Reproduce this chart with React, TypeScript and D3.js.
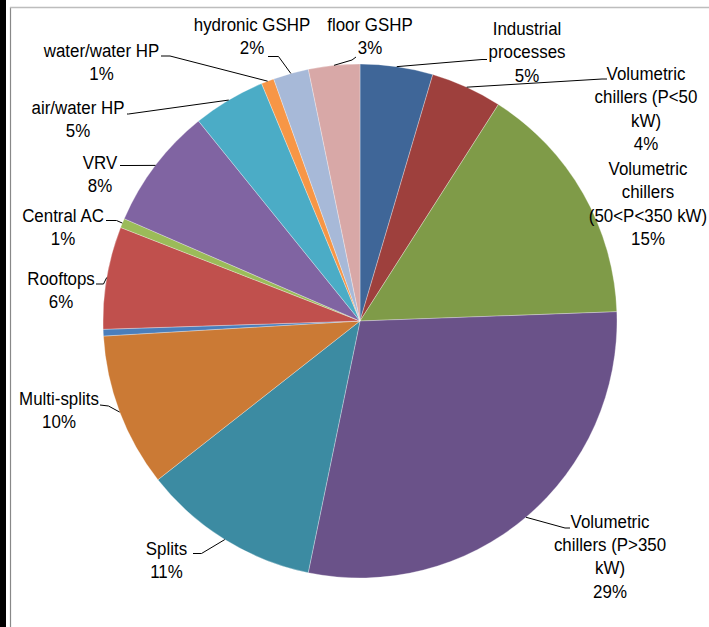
import React from "react";
import * as d3 from "d3";

// ---- data ----
const categories = [
  "Industrial processes",
  "Volumetric chillers (P<50 kW)",
  "Volumetric chillers (50<P<350 kW)",
  "Volumetric chillers (P>350 kW)",
  "Splits",
  "Multi-splits",
  "Other",
  "Rooftops",
  "Central AC",
  "VRV",
  "air/water HP",
  "water/water HP",
  "hydronic GSHP",
  "floor GSHP",
];
const values = [4.57, 4.48, 15.37, 28.8, 11.17, 9.66, 0.42, 6.44, 0.59, 7.67, 4.56, 0.8, 2.23, 3.22];
const percentLabels = ["5%", "4%", "15%", "29%", "11%", "10%", "", "6%", "1%", "8%", "5%", "1%", "2%", "3%"];
const labelLines = [
  ["Industrial", "processes"],
  ["Volumetric", "chillers (P<50", "kW)"],
  ["Volumetric", "chillers", "(50<P<350 kW)"],
  ["Volumetric", "chillers (P>350", "kW)"],
  ["Splits"],
  ["Multi-splits"],
  [],
  ["Rooftops"],
  ["Central AC"],
  ["VRV"],
  ["air/water HP"],
  ["water/water HP"],
  ["hydronic GSHP"],
  ["floor GSHP"],
];

// ---- styles / layout ----
const colors = [
  "#3F6698", "#9E403D", "#7F9B48", "#6A5289", "#3C8BA2", "#CB7A35",
  "#4A7EBB", "#C0504D", "#9BBB59", "#8064A2", "#4BACC6", "#F79646",
  "#A7B9D8", "#D8A8A7",
];
// label text anchor (center x, first baseline y)
const labelPos: ([number, number] | null)[] = [
  [527, 35], [646, 80], [648, 175], [610, 527.5], [166.5, 555], [59, 405],
  null, [61, 285], [63, 222], [100, 168.5], [78, 113.5], [101.5, 56.5],
  [252, 31], [370, 31],
];
// leader line: [elbow x, elbow y, end x, end y] or null
const leaders: ([number, number, number, number] | null)[] = [
  [482, 59.5, 487, 59.5],
  [602, 79, 607, 79],
  null,
  [565, 528, 570, 528],
  [201.5, 553.5, 193, 553.5],
  [108.5, 406, 100, 405],
  null,
  [103.5, 284, 96, 284],
  [116.5, 220.5, 106, 220.5],
  [128, 165.5, 120, 165.5],
  [128.5, 114, 127, 114],
  [170, 56, 161, 56],
  [278.5, 56.5, 268, 56.5],
  [352, 60, 356, 57],
];

const W = 709;
const H = 627;
const cx = 360;
const cy = 321;
const R = 257;
const LINE_H = 23.5;
const FONT = 19;
const SX = 0.89;

export default function App() {
  const pie = d3.pie<number>().sort(null).value((d) => d)(values);
  const arc = d3.arc<d3.PieArcDatum<number>>().innerRadius(0).outerRadius(R);
  const edge = d3.arc<d3.PieArcDatum<number>>().innerRadius(R).outerRadius(R);

  return (
    <svg
      width={W}
      height={H}
      style={{ position: "absolute", left: 0, top: 0, background: "#fff" }}
      fontFamily="'Liberation Sans', Arial, sans-serif"
    >
      <rect x={0} y={0} width={W} height={H} fill="#fff" />
      <rect x={0} y={0} width={6} height={H} fill="#000" />
      <line x1={10.5} y1={7} x2={10.5} y2={H} stroke="#888" strokeWidth={1.2} />
      <line x1={10} y1={7.5} x2={W} y2={7.5} stroke="#BDBDBD" strokeWidth={1.6} />

      <g transform={`translate(${cx},${cy})`}>
        {pie.map((p, i) => (
          <path key={i} d={arc(p) || ""} fill={colors[i]} stroke="#ffffff" strokeOpacity={0.5} strokeWidth={0.6} />
        ))}
      </g>

      {pie.map((p, i) => {
        const ld = leaders[i];
        if (!ld) return null;
        const [ex, ey] = edge.centroid(p);
        return (
          <polyline
            key={"l" + i}
            points={`${cx + ex},${cy + ey} ${ld[0]},${ld[1]} ${ld[2]},${ld[3]}`}
            fill="none"
            stroke="#000"
            strokeWidth={1}
          />
        );
      })}

      {categories.map((c, i) => {
        const pos = labelPos[i];
        if (!pos) return null;
        const lines = [...labelLines[i], percentLabels[i]];
        return (
          <g key={"t" + i} transform={`translate(${pos[0]},${pos[1]}) scale(${SX},1)`}>
            <text textAnchor="middle" fontSize={FONT} fill="#000">
              {lines.map((ln, j) => (
                <tspan key={j} x={0} y={j * LINE_H}>
                  {ln}
                </tspan>
              ))}
            </text>
          </g>
        );
      })}
    </svg>
  );
}
